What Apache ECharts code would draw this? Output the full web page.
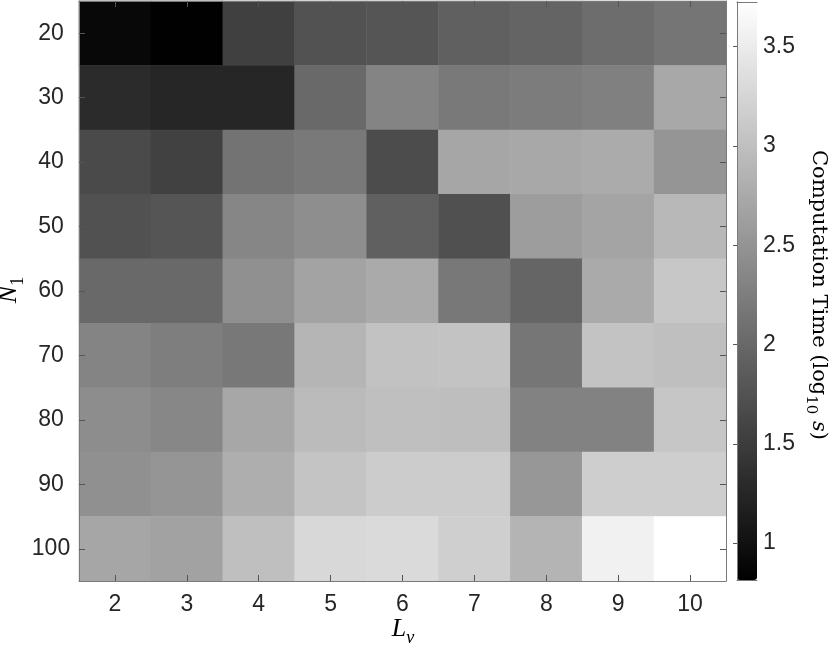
<!DOCTYPE html>
<html>
<head>
<meta charset="utf-8">
<script src="https://cdn.jsdelivr.net/npm/echarts@6/dist/echarts.min.js"></script>
<style>
html, body { margin: 0; padding: 0; background: #fff; }
#chart { width: 830px; height: 645px; }
</style>
</head>
<body>
<div id="chart"></div>
<script>
// L_v along x, N_1 along y (top row = 20)
const levels = ['2', '3', '4', '5', '6', '7', '8', '9', '10']
const sizes = ['20', '30', '40', '50', '60', '70', '80', '90', '100']

// computation time, log10 s, one row per N_1
const time20 = [0.91, 0.82, 1.54, 1.75, 1.78, 1.91, 1.95, 2.06, 2.15]
const time30 = [1.30, 1.25, 1.25, 2.01, 2.32, 2.20, 2.23, 2.27, 2.73]
const time40 = [1.66, 1.56, 2.13, 2.19, 1.68, 2.71, 2.73, 2.77, 2.52]
const time50 = [1.74, 1.78, 2.34, 2.44, 1.91, 1.73, 2.61, 2.69, 2.91]
const time60 = [2.01, 2.01, 2.46, 2.67, 2.76, 2.18, 1.97, 2.76, 3.09]
const time70 = [2.32, 2.25, 2.18, 2.88, 3.03, 3.04, 2.16, 3.04, 2.99]
const time80 = [2.42, 2.35, 2.72, 2.95, 3.00, 2.98, 2.30, 2.30, 3.08]
const time90 = [2.46, 2.52, 2.80, 3.05, 3.14, 3.14, 2.54, 3.16, 3.17]
const time100 = [2.71, 2.66, 2.99, 3.28, 3.30, 3.18, 2.87, 3.57, 3.72]
const timeRows = [time20, time30, time40, time50, time60, time70, time80, time90, time100]

// colour bar
const colorMin = 0.814
const colorMax = 3.725
const colorTicks = [1, 1.5, 2, 2.5, 3, 3.5]

const cells = []
timeRows.forEach((row, yi) => {
  row.forEach((v, xi) => cells.push([xi, yi, v]))
})

const chart = echarts.init(document.getElementById('chart'))

const lineColor = '#7a7a7a'
const textColor = '#262626'
const labelFont = { fontFamily: 'Liberation Sans', fontSize: 23, color: textColor }
const serif = 'Liberation Serif'

// category axis used around the heatmap frame
const catAxis = (extra) => Object.assign({
  type: 'category',
  gridIndex: 0,
  z: 10,
  axisLine: { show: true, lineStyle: { color: lineColor, width: 1 } },
  axisTick: { show: true, inside: true, alignWithLabel: true, length: 6, lineStyle: { color: '#555' } },
  splitLine: { show: false }
}, extra)

// plain frame line for the colour bar
const barAxis = (extra) => Object.assign({
  type: 'value',
  gridIndex: 1,
  z: 10,
  min: colorMin,
  max: colorMax,
  axisLine: { show: true, lineStyle: { color: lineColor, width: 1 } },
  axisTick: { show: false },
  axisLabel: { show: false },
  splitLine: { show: false }
}, extra)

chart.setOption({
  animation: false,
  backgroundColor: '#fff',
  grid: [
    { left: 79, top: 1, right: 104, bottom: 64 },
    { left: 737, top: 2, width: 20, height: 578 }
  ],
  xAxis: [
    catAxis({ position: 'bottom', data: levels, axisLabel: Object.assign({ margin: 12 }, labelFont) }),
    catAxis({ position: 'top', data: levels, axisLabel: { show: false } }),
    barAxis({ position: 'bottom', min: 0, max: 1 }),
    barAxis({ position: 'top', min: 0, max: 1 })
  ],
  yAxis: [
    catAxis({ position: 'left', data: sizes, inverse: true, axisLabel: Object.assign({ margin: 28, align: 'center' }, labelFont) }),
    catAxis({ position: 'right', data: sizes, inverse: true, axisLabel: { show: false } }),
    barAxis({
      position: 'right',
      axisTick: { show: true, inside: true, length: 4, lineStyle: { color: '#555' }, customValues: colorTicks },
      axisLabel: Object.assign({ show: true, margin: 6, customValues: colorTicks, formatter: (v) => String(v) }, labelFont)
    }),
    barAxis({ position: 'left' })
  ],
  visualMap: {
    type: 'continuous',
    seriesIndex: 0,
    dimension: 2,
    min: colorMin,
    max: colorMax,
    orient: 'vertical',
    left: 737,
    top: 2,
    itemWidth: 20,
    itemHeight: 578,
    padding: 0,
    calculable: false,
    hoverLink: false,
    text: null,
    inRange: { color: ['#000000', '#ffffff'] }
  },
  series: [
    {
      type: 'heatmap',
      xAxisIndex: 0,
      yAxisIndex: 0,
      data: cells,
      itemStyle: { borderWidth: 0 },
      emphasis: { disabled: true }
    }
  ],
  graphic: [
    {
      type: 'text',
      x: 403,
      y: 632,
      style: {
        text: '{m|L}{s|v}',
        align: 'center',
        verticalAlign: 'middle',
        rich: {
          m: { fontFamily: serif, fontStyle: 'italic', fontSize: 26, color: textColor, verticalAlign: 'bottom', padding: [0, 0, 5, 0] },
          s: { fontFamily: serif, fontStyle: 'italic', fontSize: 18, color: textColor, verticalAlign: 'bottom' }
        }
      }
    },
    {
      type: 'text',
      x: 12,
      y: 290,
      rotation: Math.PI / 2,
      style: {
        text: '{m|N}{s|1}',
        align: 'center',
        verticalAlign: 'middle',
        rich: {
          m: { fontFamily: serif, fontStyle: 'italic', fontSize: 26, color: textColor, verticalAlign: 'bottom', padding: [0, 0, 5, 0] },
          s: { fontFamily: serif, fontSize: 18, color: textColor, verticalAlign: 'bottom' }
        }
      }
    },
    {
      type: 'text',
      x: 816,
      y: 295,
      rotation: -Math.PI / 2,
      style: {
        text: '{r|Computation Time (log}{s|10}{r| }{i|s}{r|)}',
        align: 'center',
        verticalAlign: 'middle',
        rich: {
          r: { fontFamily: 'DejaVu Serif', fontSize: 21, color: textColor, verticalAlign: 'bottom', padding: [0, 0, 5, 0] },
          s: { fontFamily: 'DejaVu Serif', fontSize: 15, color: textColor, verticalAlign: 'bottom' },
          i: { fontFamily: 'DejaVu Serif', fontStyle: 'italic', fontSize: 21, color: textColor, verticalAlign: 'bottom', padding: [0, 0, 5, 0] }
        }
      }
    }
  ]
})
</script>
</body>
</html>
